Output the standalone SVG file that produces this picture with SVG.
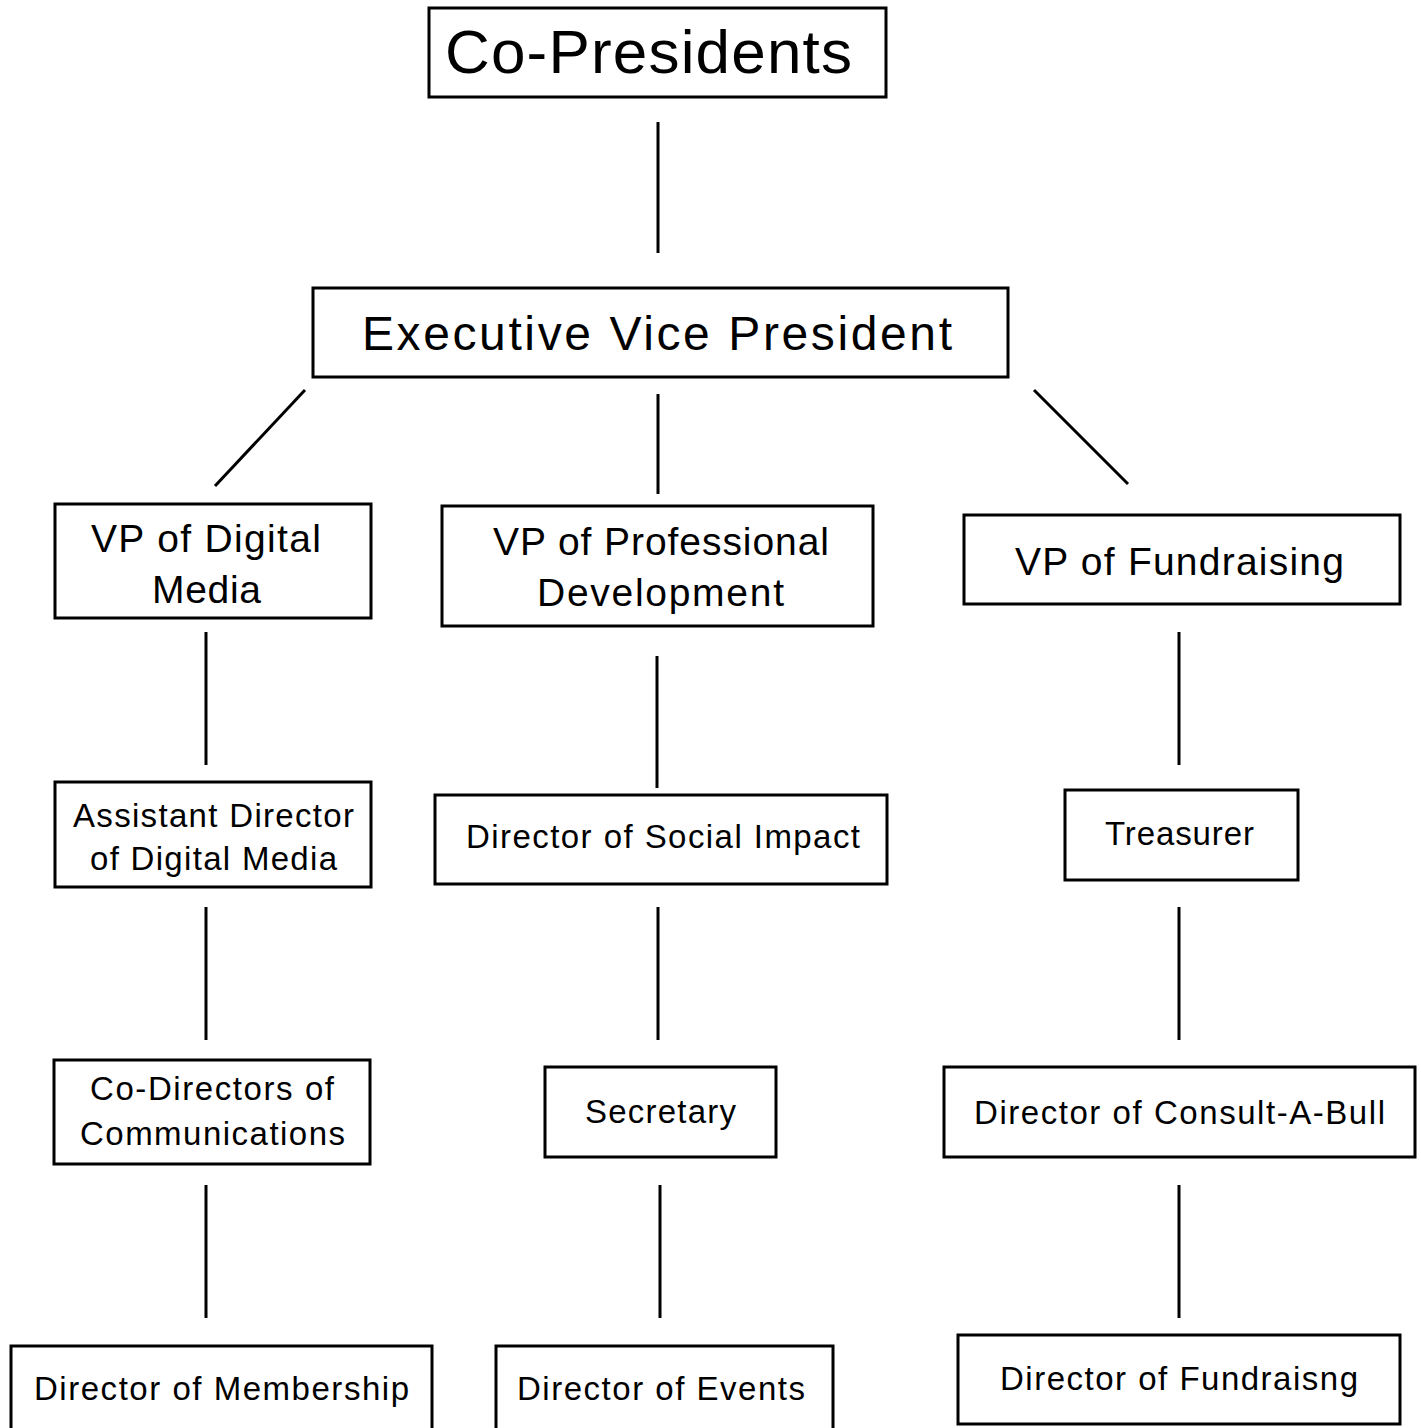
<svg xmlns="http://www.w3.org/2000/svg" width="1421" height="1428" viewBox="0 0 1421 1428">
<style>
rect.box{fill:#fff;stroke:#000;stroke-width:3}
line.c{stroke:#000;stroke-width:3}
text{font-family:"Liberation Sans","Open Sans",Arial,sans-serif;fill:#000;text-anchor:start}
.t62{font-size:62px}
.t48{font-size:48px}
.t40{font-size:39px}
.t34{font-size:33px}
</style>
<rect width="1421" height="1428" fill="#fff"/>
<g id="connectors">
<line class="c" x1="658" y1="122" x2="658" y2="253"/>
<line class="c" x1="305" y1="390" x2="215" y2="486"/>
<line class="c" x1="658" y1="394" x2="658" y2="494"/>
<line class="c" x1="1034" y1="390" x2="1128" y2="484"/>
<line class="c" x1="206" y1="632" x2="206" y2="765"/>
<line class="c" x1="657" y1="656" x2="657" y2="788"/>
<line class="c" x1="1179" y1="632" x2="1179" y2="765"/>
<line class="c" x1="206" y1="907" x2="206" y2="1040"/>
<line class="c" x1="658" y1="907" x2="658" y2="1040"/>
<line class="c" x1="1179" y1="907" x2="1179" y2="1040"/>
<line class="c" x1="206" y1="1185" x2="206" y2="1318"/>
<line class="c" x1="660" y1="1185" x2="660" y2="1318"/>
<line class="c" x1="1179" y1="1185" x2="1179" y2="1318"/>
</g>
<g id="co-presidents">
<rect class="box" x="429" y="8" width="457" height="89"/>
<text class="t62" x="445" y="73" textLength="407">Co-Presidents</text>
</g>
<g id="executive-vp">
<rect class="box" x="313" y="288" width="695" height="89"/>
<text class="t48" x="362" y="350" textLength="590">Executive Vice President</text>
</g>
<g id="vp-digital-media">
<rect class="box" x="55" y="504" width="316" height="114"/>
<text class="t40" x="91" y="552" textLength="230">VP of Digital</text>
<text class="t40" x="152" y="603" textLength="109">Media</text>
</g>
<g id="vp-professional-development">
<rect class="box" x="442" y="506" width="431" height="120"/>
<text class="t40" x="493" y="555" textLength="336">VP of Professional</text>
<text class="t40" x="537" y="606" textLength="247">Development</text>
</g>
<g id="vp-fundraising">
<rect class="box" x="964" y="515" width="436" height="89"/>
<text class="t40" x="1015" y="575" textLength="329">VP of Fundraising</text>
</g>
<g id="assistant-director-digital-media">
<rect class="box" x="55" y="782" width="316" height="105"/>
<text class="t34" x="73" y="827" textLength="281">Assistant Director</text>
<text class="t34" x="90" y="870" textLength="247">of Digital Media</text>
</g>
<g id="director-social-impact">
<rect class="box" x="435" y="795" width="452" height="89"/>
<text class="t34" x="466" y="848" textLength="394">Director of Social Impact</text>
</g>
<g id="treasurer">
<rect class="box" x="1065" y="790" width="233" height="90"/>
<text class="t34" x="1105" y="845" textLength="149">Treasurer</text>
</g>
<g id="co-directors-communications">
<rect class="box" x="54" y="1060" width="316" height="104"/>
<text class="t34" x="90" y="1100" textLength="244">Co-Directors of</text>
<text class="t34" x="80" y="1145" textLength="265">Communications</text>
</g>
<g id="secretary">
<rect class="box" x="545" y="1067" width="231" height="90"/>
<text class="t34" x="585" y="1123" textLength="151">Secretary</text>
</g>
<g id="director-consult-a-bull">
<rect class="box" x="944" y="1067" width="471" height="90"/>
<text class="t34" x="974" y="1124" textLength="411">Director of Consult-A-Bull</text>
</g>
<g id="director-membership">
<rect class="box" x="11" y="1346" width="421" height="100"/>
<text class="t34" x="34" y="1400" textLength="375">Director of Membership</text>
</g>
<g id="director-events">
<rect class="box" x="496" y="1346" width="337" height="100"/>
<text class="t34" x="517" y="1400" textLength="288">Director of Events</text>
</g>
<g id="director-fundraisng">
<rect class="box" x="958" y="1335" width="442" height="89"/>
<text class="t34" x="1000" y="1390" textLength="358">Director of Fundraisng</text>
</g>
</svg>
